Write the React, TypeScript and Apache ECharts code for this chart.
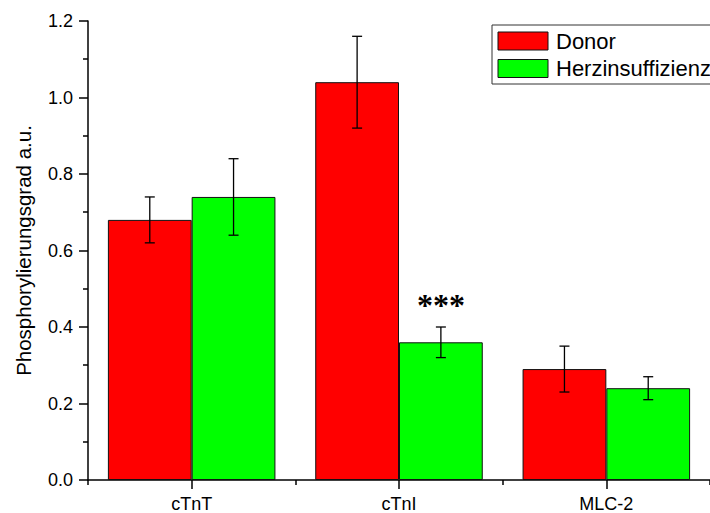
import React, { useEffect, useRef } from "react";
import * as echarts from "echarts";

const categories = ["cTnT", "cTnI", "MLC-2"];
const seriesNames = ["Donor", "Herzinsuffizienz"];
const seriesColors = ["#ff0000", "#00ff00"];
const donorValues = [0.68, 1.04, 0.29];
const donorErrors = [0.06, 0.12, 0.06];
const hiValues = [0.74, 0.36, 0.24];
const hiErrors = [0.1, 0.04, 0.03];
const significance = ["", "***", ""];

const FONT = "'Liberation Sans', Arial, sans-serif";
const CAT_GAP = 0.192;

function makeErrorRender(sign: number, sig: string[] | null) {
  return (params: any, api: any) => {
    const cat = api.value(0);
    const v = api.value(1);
    const e = api.value(2);
    const band = api.size([1, 0])[0];
    const off = (sign * band * (1 - CAT_GAP)) / 4;
    const top = api.coord([cat, v + e]);
    const bot = api.coord([cat, v - e]);
    const x = top[0] + off;
    const cap = 5;
    const st = { stroke: "#000", lineWidth: 1.3 };
    const children: any[] = [
      { type: "line", shape: { x1: x, y1: top[1], x2: x, y2: bot[1] }, style: st },
      { type: "line", shape: { x1: x - cap, y1: top[1], x2: x + cap, y2: top[1] }, style: st },
      { type: "line", shape: { x1: x - cap, y1: bot[1], x2: x + cap, y2: bot[1] }, style: st },
    ];
    const s = sig ? sig[params.dataIndex] : "";
    if (s) {
      children.push({
        type: "text",
        x,
        y: top[1] - 22,
        style: {
          text: s,
          fontSize: 32,
          fontWeight: "bold",
          fontFamily: "'Liberation Serif', 'Times New Roman', serif",
          fill: "#000",
          textAlign: "center",
          textVerticalAlign: "middle",
        },
      });
    }
    return { type: "group", children };
  };
}

export default function App() {
  const ref = useRef<HTMLDivElement>(null);
  useEffect(() => {
    if (!ref.current) return;
    const chart = echarts.init(ref.current, undefined, { renderer: "svg" });
    const axisLine = { show: true, lineStyle: { color: "#000", width: 1.5 } };
    const legendElements: any[] = [
      {
        type: "rect",
        z: 20,
        shape: { x: 492, y: 25, width: 260, height: 59 },
        style: { fill: "#fff", stroke: "#333", lineWidth: 1 },
      },
    ];
    seriesNames.forEach((name, i) => {
      const y = 32 + i * 27.5;
      legendElements.push({
        type: "rect",
        z: 21,
        shape: { x: 498, y, width: 50, height: 18 },
        style: { fill: seriesColors[i], stroke: "#111", lineWidth: 1 },
      });
      legendElements.push({
        type: "text",
        z: 21,
        x: 556,
        y: y + 9,
        style: {
          text: name,
          fontSize: 22,
          fontFamily: FONT,
          fill: "#000",
          textAlign: "left",
          textVerticalAlign: "middle",
        },
      });
    });
    chart.setOption({
      animation: false,
      backgroundColor: "#fff",
      textStyle: { fontFamily: FONT },
      grid: { left: 88, right: -2, top: 21, bottom: 30.3, containLabel: false },
      graphic: legendElements,
      xAxis: [
        {
          type: "category",
          data: categories,
          position: "bottom",
          axisLine,
          axisTick: { show: true, length: 5, lineStyle: { color: "#000", width: 1.5 } },
          axisLabel: { show: false },
          splitLine: { show: false },
        },
        {
          type: "category",
          data: categories,
          position: "bottom",
          axisLine: { show: false },
          axisTick: { show: true, alignWithLabel: true, length: 9, lineStyle: { color: "#000", width: 1.5 } },
          axisLabel: { show: true, fontSize: 18, color: "#000", fontFamily: FONT, margin: 15 },
          splitLine: { show: false },
        },
      ],
      yAxis: {
        type: "value",
        min: 0,
        max: 1.2,
        interval: 0.2,
        name: "Phosphorylierungsgrad a.u.",
        nameLocation: "middle",
        nameGap: 54,
        nameTextStyle: { fontSize: 20.5, color: "#000", fontFamily: FONT },
        axisLine,
        axisTick: { show: true, length: 9, lineStyle: { color: "#000", width: 1.5 } },
        minorTick: { show: true, splitNumber: 2, length: 5, lineStyle: { color: "#000", width: 1.5 } },
        axisLabel: {
          fontSize: 18,
          color: "#000",
          fontFamily: FONT,
          margin: 15,
          formatter: (v: number) => v.toFixed(1),
        },
        splitLine: { show: false },
      },
      series: [
        {
          name: seriesNames[0],
          type: "bar",
          xAxisIndex: 0,
          data: donorValues,
          barCategoryGap: "19.2%",
          barGap: "0%",
          itemStyle: { color: seriesColors[0], borderColor: "#111", borderWidth: 1 },
        },
        {
          name: seriesNames[1],
          type: "bar",
          xAxisIndex: 0,
          data: hiValues,
          barCategoryGap: "19.2%",
          barGap: "0%",
          itemStyle: { color: seriesColors[1], borderColor: "#111", borderWidth: 1 },
        },
        {
          name: "err-donor",
          type: "custom",
          xAxisIndex: 0,
          renderItem: makeErrorRender(-1, null),
          data: donorValues.map((v, i) => [i, v, donorErrors[i]]),
          z: 10,
        },
        {
          name: "err-hi",
          type: "custom",
          xAxisIndex: 0,
          renderItem: makeErrorRender(1, significance),
          data: hiValues.map((v, i) => [i, v, hiErrors[i]]),
          z: 10,
        },
      ],
    });
    return () => chart.dispose();
  }, []);
  return <div ref={ref} style={{ width: 710, height: 513, position: "fixed", left: 0, top: 0 }} />;
}
